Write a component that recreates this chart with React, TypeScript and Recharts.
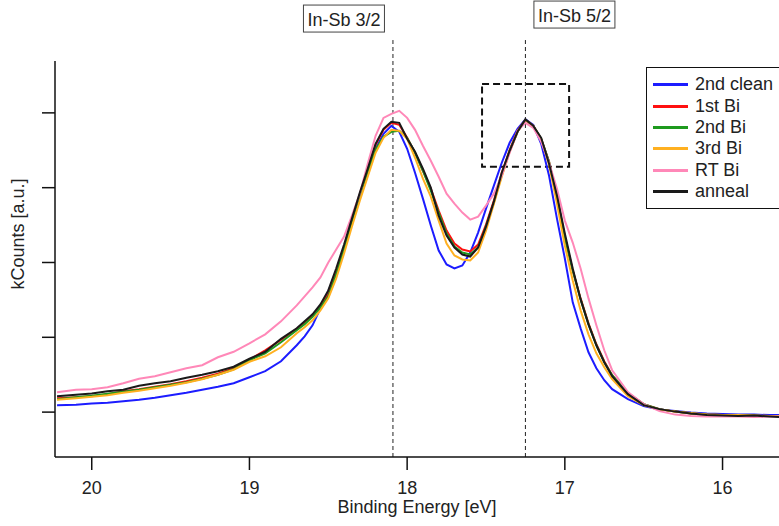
import React from 'react';
import {
  LineChart, Line, XAxis, YAxis, ReferenceLine, ReferenceArea, Legend, Label,
} from 'recharts';

const energies = [
  20.22, 20.1, 20.0, 19.9, 19.8, 19.7, 19.6, 19.5, 19.4, 19.3, 19.2, 19.1, 19.0, 18.9, 18.8, 18.7,
  18.65, 18.6, 18.55, 18.5, 18.45, 18.4, 18.35, 18.3, 18.25, 18.2,
  18.15, 18.1, 18.05, 18.0, 17.95, 17.9, 17.85, 17.8, 17.75, 17.7,
  17.65, 17.6, 17.55, 17.5, 17.45, 17.4, 17.35, 17.3, 17.25, 17.2,
  17.15, 17.1, 17.05, 17.0, 16.95, 16.9, 16.85, 16.8, 16.75, 16.7,
  16.6, 16.5, 16.4, 16.3, 16.2, 16.1, 16.0, 15.9, 15.8, 15.7, 15.64,
];

const clean2nd = [
  7, 7.5, 8.7, 9.5, 11, 12.5, 14.5, 17, 19.5, 22.5, 25.5, 29, 35, 41, 51, 67,
  76, 87, 104, 121, 140, 164, 191, 218, 242, 264,
  279, 287, 281, 264, 240, 214, 187, 162, 148, 144,
  147, 160, 180, 204, 227, 250, 270, 284, 293.5, 288,
  269, 237, 194, 154, 110, 84, 60, 44, 32, 23,
  13, 6, 2.5, 1, -0.5, -1.5, -2, -2.5, -2.5, -3, -3,
];

const bi1st = [
  14, 15, 16, 18, 21, 23, 25.5, 28, 31, 34.5, 38.5, 44, 52.5, 62, 72.5, 83.5,
  90, 97, 106, 118, 140, 165, 192, 218, 244, 268,
  283, 290, 288, 275, 260, 242, 224, 202, 182, 169,
  163, 161, 168, 188, 212, 240, 263, 282, 293, 287,
  274, 251, 216, 176, 142, 114, 89, 68, 51, 37,
  19, 8, 3, 0.5, -1.5, -2.5, -3, -3.5, -3.5, -4, -4,
];

const bi2nd = [
  13, 15, 16.3, 18.5, 20.5, 22.5, 25, 27.5, 30, 33.5, 37.5, 43, 52, 59, 70, 82,
  88, 95.5, 105, 116, 138, 163, 190, 216, 241, 263,
  276, 281, 282, 275, 260, 242, 222, 200, 179, 166,
  160, 158, 165, 186, 210, 238, 262, 281, 293, 287,
  274, 251, 216, 174, 142, 113, 88, 67, 50, 37,
  19, 8, 3, 0.5, -1.5, -2.5, -3, -3.5, -3.5, -4, -4,
];

const bi3rd = [
  12.5, 14, 15.3, 17, 19.5, 21.5, 24, 26.5, 29.5, 33, 37.5, 42.5, 50.5, 56, 65, 79,
  85, 92, 102, 114, 134, 159, 186, 212, 236, 260,
  275, 283, 282, 274, 255, 234, 216, 192, 169, 157,
  153, 152, 160, 182, 209, 236, 261, 281, 293, 287,
  273, 248, 209, 167, 132, 102, 78, 59, 45, 33,
  16, 7, 2.5, 0.5, -1, -2.5, -3, -3, -3.5, -4, -4,
];

const rtBi = [
  20, 22.5, 23, 25, 29, 33.5, 36, 40, 44, 47, 55, 60.5, 69, 78, 91, 107,
  116, 125, 135, 150, 163, 176, 197, 219, 249, 277,
  295, 299, 302, 295, 283, 267, 252, 236, 219, 209,
  200, 193, 196, 207, 219, 237, 260, 282, 290, 285,
  271, 250, 224, 192, 170, 144, 114, 87, 62, 42,
  20, 8, 1, -2.5, -4, -4.5, -4.5, -4.5, -5, -4.5, -4.5,
];

const anneal = [
  16, 17.5, 18.7, 21, 22.5, 26.5, 29, 31, 34.5, 37.5, 41, 45.5, 53.5, 60.5, 73.5, 84,
  91, 98, 108, 122, 144, 168, 194, 220, 244, 269,
  284, 291, 290, 274, 261, 244, 225, 197, 177, 165,
  158, 156, 165, 186, 211, 240, 262, 281, 293.5, 287,
  275, 249, 217, 179, 144, 113, 88, 67, 50, 36,
  18, 7, 3, 0.5, -1.5, -3, -3.5, -4, -3.5, -4.5, -5,
];

const seriesKeys = ['clean2nd', 'bi1st', 'bi2nd', 'bi3rd', 'rtBi', 'anneal'];
const seriesNames = ['2nd clean', '1st Bi', '2nd Bi', '3rd Bi', 'RT Bi', 'anneal'];
const seriesColors = ['#1c1cff', '#ff1010', '#1e9a1e', '#ffb020', '#ff88b8', '#1a1a1a'];
const seriesValues = [clean2nd, bi1st, bi2nd, bi3rd, rtBi, anneal];

const xTicks = [16, 17, 18, 19, 20];
const yTicks = [0, 75, 150, 225, 300];
const xDomain = [15.642, 20.233];
const yDomain = [-45, 352];

const peakPositions = [18.09, 17.25];
const peakLabels = ['In-Sb 3/2', 'In-Sb 5/2'];
const peakLineTop = 373;

const zoomBoxX = [17.525, 16.973];
const zoomBoxY = [246, 329];

const data = energies.map((e, i) => {
  const row: Record<string, number> = { e };
  seriesKeys.forEach((k, j) => {
    row[k] = seriesValues[j][i];
  });
  return row;
});

const FONT = '"Liberation Sans", Arial, sans-serif';

const makePeakLabel = (text: string, side: number, lift: number) => (props: any) => {
  const vb = props.viewBox || {};
  const w = 81;
  const h = 27;
  const cx = vb.x + side * 49;
  const top = vb.y - lift;
  return (
    <g>
      <rect x={cx - w / 2} y={top} width={w} height={h} fill="#fff" stroke="#444" strokeWidth={1} />
      <text x={cx} y={top + h / 2 + 1} textAnchor="middle" dominantBaseline="central"
        fontSize={18} fill="#222" fontFamily={FONT}>{text}</text>
    </g>
  );
};

const YTitle = (props: any) => {
  const vb = props.viewBox || {};
  const x = 18;
  const y = vb.y + vb.height / 2 - 25;
  return (
    <text x={x} y={y} transform={`rotate(-90 ${x} ${y})`} textAnchor="middle"
      dominantBaseline="central" fontSize={18} fill="#222" fontFamily={FONT}>kCounts [a.u.]</text>
  );
};

const LegendBox = (props: any) => {
  const payload = [...(props.payload || [])].sort(
    (a: any, b: any) => seriesNames.indexOf(a.value) - seriesNames.indexOf(b.value),
  );
  return (
    <div style={{
      border: '1.5px solid #111', background: '#fff', padding: '6px 8px 6px 6px',
      width: 150, boxSizing: 'border-box', fontFamily: FONT,
    }}>
      {payload.map((p: any) => (
        <div key={p.value} style={{ display: 'flex', alignItems: 'center', height: 21.4 }}>
          <div style={{ width: 35, height: 3, background: p.color, marginRight: 7 }} />
          <span style={{ fontSize: 18, color: '#222', lineHeight: '21px', whiteSpace: 'nowrap' }}>{p.value}</span>
        </div>
      ))}
    </div>
  );
};

export default function App() {
  return (
    <div style={{
      position: 'absolute', left: 0, top: 0, width: 779, height: 526,
      overflow: 'hidden', background: '#fff', fontFamily: FONT,
    }}>
      <LineChart width={779} height={526} data={data}
        margin={{ top: 61, right: 0, bottom: 0, left: 0 }}>
        <XAxis dataKey="e" type="number" domain={xDomain} reversed allowDataOverflow
          ticks={xTicks} tickSize={13} tickMargin={11} height={69}
          axisLine={{ stroke: '#111', strokeWidth: 1.5 }}
          tickLine={{ stroke: '#111', strokeWidth: 1.5 }}
          tick={{ fill: '#222', fontSize: 18, fontFamily: FONT }}>
          <Label value="Binding Energy [eV]" position="insideBottom" offset={13}
            style={{ fill: '#222', fontSize: 18, fontFamily: FONT }} />
        </XAxis>
        <YAxis type="number" domain={yDomain} allowDataOverflow ticks={yTicks} width={55}
          tickSize={13} tickFormatter={() => ''}
          axisLine={{ stroke: '#111', strokeWidth: 1.5 }}
          tickLine={{ stroke: '#111', strokeWidth: 1.5 }}>
          <Label content={YTitle} />
        </YAxis>
        {peakPositions.map((p, i) => (
          <ReferenceLine key={p} ifOverflow="visible"
            segment={[{ x: p, y: yDomain[0] }, { x: p, y: peakLineTop }]}
            stroke="#222" strokeWidth={1} strokeDasharray="4 3"
            label={makePeakLabel(peakLabels[i], i === 0 ? -1 : 1, i === 0 ? 35 : 39)} />
        ))}
        <ReferenceArea x1={zoomBoxX[0]} x2={zoomBoxX[1]} y1={zoomBoxY[0]} y2={zoomBoxY[1]}
          fill="none" fillOpacity={0} stroke="#111" strokeWidth={2} strokeDasharray="7 4"
          ifOverflow="visible" />
        {seriesKeys.map((k, i) => (
          <Line key={k} dataKey={k} name={seriesNames[i]} type="linear" stroke={seriesColors[i]}
            strokeWidth={2} dot={false} activeDot={false} isAnimationActive={false} />
        ))}
        <Legend layout="vertical" align="center" verticalAlign="middle" content={LegendBox}
          wrapperStyle={{ left: 646, top: 67, right: 'auto', bottom: 'auto', width: 150 }} />
      </LineChart>
    </div>
  );
}
